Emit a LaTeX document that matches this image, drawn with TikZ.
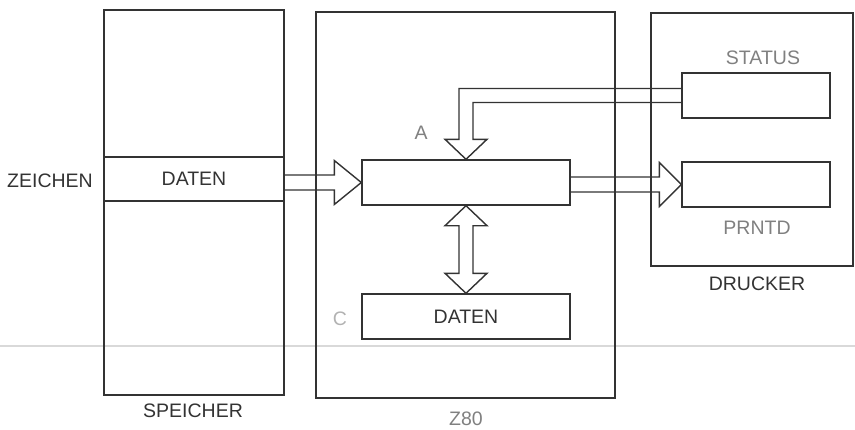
\documentclass[tikz,border=0pt]{standalone}
\usepackage{fontspec}
\setmainfont{Liberation Sans}
\usetikzlibrary{calc}

\tikzset{
  box/.style={draw=black!80, line width=1.4pt, inner sep=0pt, minimum height=45pt},
  fat/.style={draw=black!80, line width=1.4pt, line join=miter},
  lbl/.style={text=black!80, inner sep=1pt, font=\fontsize{19.5}{22}\selectfont},
  grey/.style={text=black!50, inner sep=1pt, font=\fontsize{19.5}{22}\selectfont},
}

\begin{document}
\begin{tikzpicture}[x=1pt,y=-1pt]
\useasboundingbox (0,0) rectangle (855,429);

\draw[black!15, line width=1.5pt] (0,346) -- (855,346);

% Speicher, Z80, Drucker
\node[box, minimum width=180pt, minimum height=385pt] (speicher) at (194,202.5) {};
\node[box, minimum width=299pt, minimum height=386pt] (z80) at (465.5,205) {};
\node[box, minimum width=202pt, minimum height=253pt] (drucker) at (752,139.5) {};

\node[box, lbl, minimum width=180pt, minimum height=44pt] (zeile) at (194,179) {DATEN};
\node[box, minimum width=208pt] (regA) at (466,182.5) {};
\node[box, lbl, minimum width=208pt] (regC) at (466,316.5) {DATEN};
\node[box, minimum width=148pt] (status) at (756,95.5) {};
\node[box, minimum width=148pt] (prntd) at (756,184.5) {};

\node[lbl] (zeichen) at (50,181) {ZEICHEN};
\node[lbl] (lspeicher) at (193,411) {SPEICHER};
\node[grey] (lz80) at (466,419) {Z80};
\node[lbl] (ldrucker) at (757,284) {DRUCKER};
\node[grey] (lstatus) at (763,58) {STATUS};
\node[grey] (lprntd) at (757,228) {PRNTD};
\node[grey] (la) at (421,133) {A};
\node[grey, text=black!30] (lc) at (340,319) {C};

% Datenwege
\draw[fat] ($(zeile.east|-regA.west)+(0,-7.5)$) -- ($(regA.west)+(-27,-7.5)$)
  -- ($(regA.west)+(-27,-22)$) -- (regA.west) -- ($(regA.west)+(-27,22)$)
  -- ($(regA.west)+(-27,7.5)$) -- ($(zeile.east|-regA.west)+(0,7.5)$);

\draw[fat] ($(regA.east|-prntd.west)+(0,-7.5)$) -- ($(prntd.west)+(-22,-7.5)$)
  -- ($(prntd.west)+(-22,-22)$) -- (prntd.west) -- ($(prntd.west)+(-22,22)$)
  -- ($(prntd.west)+(-22,7.5)$) -- ($(regA.east|-prntd.west)+(0,7.5)$);

\draw[fat] ($(status.west)+(0,-7)$) -- ($(regA.north|-status.west)+(-7,-7)$)
  -- ($(regA.north)+(-7,-20)$) -- ($(regA.north)+(-21,-20)$) -- (regA.north)
  -- ($(regA.north)+(21,-20)$) -- ($(regA.north)+(7,-20)$)
  -- ($(regA.north|-status.west)+(7,7)$) -- ($(status.west)+(0,7)$);

\draw[fat] (regA.south) -- ($(regA.south)+(21,20)$) -- ($(regA.south)+(7,20)$)
  -- ($(regC.north)+(7,-20)$) -- ($(regC.north)+(21,-20)$) -- (regC.north)
  -- ($(regC.north)+(-21,-20)$) -- ($(regC.north)+(-7,-20)$)
  -- ($(regA.south)+(-7,20)$) -- ($(regA.south)+(-21,20)$) -- cycle;
\end{tikzpicture}
\end{document}
